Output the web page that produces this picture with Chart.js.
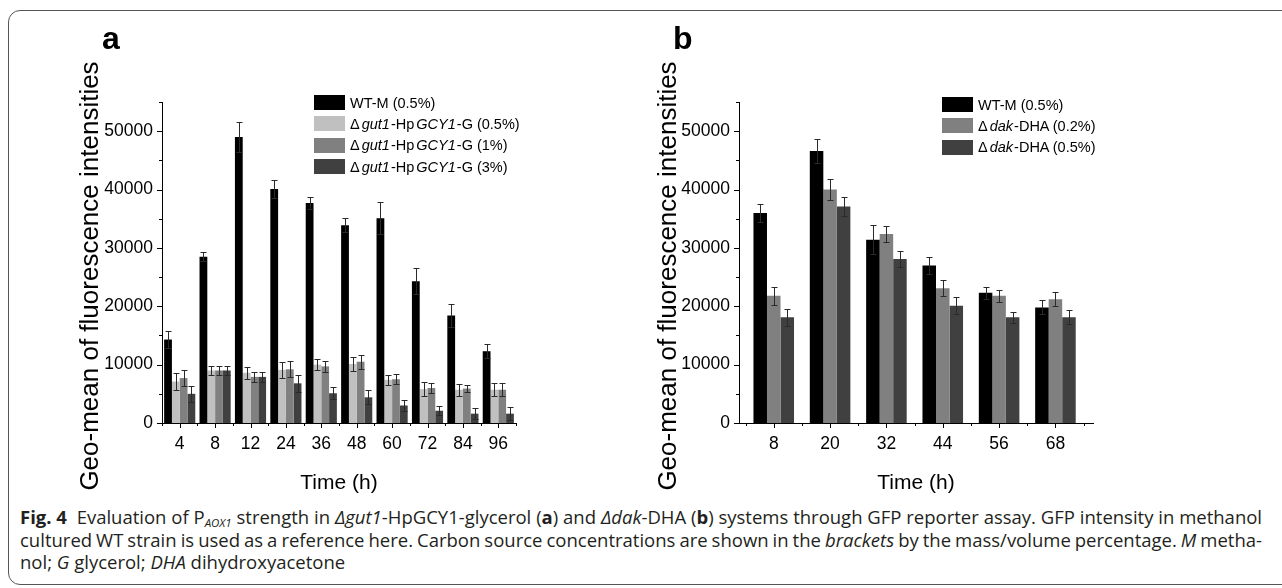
<!DOCTYPE html>
<html>
<head>
<meta charset="utf-8">
<script src="https://cdn.jsdelivr.net/npm/chart.js@4.4.1/dist/chart.umd.min.js"></script>
<style>
  html, body { margin: 0; padding: 0; background: #fff; }
  body { width: 1282px; height: 588px; position: relative; overflow: hidden; font-family: "Liberation Sans", Arial, sans-serif; }
  #frame { position: absolute; left: 8px; top: 10px; width: 1300px; height: 575px; border: 1.5px solid #555; border-radius: 12px; box-sizing: border-box; }
  canvas { position: absolute; top: 0; }
  #chartA { left: 0; }
  #chartB { left: 620px; }
  .letter { position: absolute; font: bold 32px "Liberation Sans", Arial, sans-serif; line-height: 1; }
  .legend { position: absolute; font-size: 14.5px; color: #000; }
  .legend .row { height: 21.3px; display: flex; align-items: center; white-space: nowrap; }
  .legend .box { display: inline-block; width: 31px; height: 15px; margin-right: 5px; }
  .legend i { margin: 0 1px 0 2px; }
  #caption { position: absolute; left: 20px; top: 506px; width: 1242px; font-family: "Open Sans", sans-serif; font-size: 16px; color: #231f20; }
  #caption .line { display: block; width: max-content; white-space: nowrap; height: 22.5px; line-height: 22.5px; }
  #caption sub { font-size: 0.62em; font-style: italic; vertical-align: -3px; line-height: 0; }
</style>
</head>
<body>
<div id="frame"></div>
<canvas id="chartA" width="640" height="500"></canvas>
<canvas id="chartB" width="662" height="500"></canvas>
<div class="letter" style="left:102px; top:22px;">a</div>
<div class="letter" style="left:673px; top:22px;">b</div>
<div class="legend" id="legendA" style="left:314px; top:92px;"></div>
<div class="legend" id="legendB" style="left:942px; top:94px;"></div>
<div id="caption">
  <div class="line" id="cap1"><b>Fig. 4</b>&nbsp; Evaluation of P<sub>AOX1</sub> strength in <i>Δgut1</i>-HpGCY1-glycerol (<b>a</b>) and <i>Δdak</i>-DHA (<b>b</b>) systems through GFP reporter assay. GFP intensity in methanol</div>
  <div class="line" id="cap2">cultured WT strain is used as a reference here. Carbon source concentrations are shown in the <i>brackets</i> by the mass/volume percentage. <i>M</i> metha-</div>
  <div class="line" id="cap3">nol; <i>G</i> glycerol; <i>DHA</i> dihydroxyacetone</div>
</div>
<script>
// panel a values
const timesA = ['4', '8', '12', '24', '36', '48', '60', '72', '84', '96'];
const wtA = [14300, 28500, 49000, 40100, 37700, 33900, 35100, 24300, 18400, 12300];
const wtAErr = [1500, 800, 2500, 1500, 1000, 1200, 2800, 2200, 2000, 1200];
const g05A = [7100, 9000, 8600, 9100, 10000, 10100, 7400, 5800, 5700, 5700];
const g05AErr = [1500, 700, 1000, 1400, 900, 1200, 900, 1200, 1000, 1100];
const g1A = [7700, 9000, 7900, 9200, 9700, 10500, 7500, 6000, 5900, 5700];
const g1AErr = [1400, 800, 900, 1400, 1000, 1200, 900, 900, 600, 1100];
const g3A = [5000, 9000, 7900, 6800, 5100, 4400, 3000, 2100, 1600, 1600];
const g3AErr = [1400, 700, 900, 1500, 1000, 1200, 1000, 800, 900, 1100];

// panel b values
const timesB = [8, 20, 32, 44, 56, 68];
const wtB = [36000, 46600, 31400, 27000, 22300, 19800];
const wtBErr = [1500, 2000, 2500, 1500, 1000, 1200];
const d02B = [21800, 40000, 32400, 23100, 21800, 21200];
const d02BErr = [1500, 1800, 1400, 1400, 1000, 1200];
const d05B = [18100, 37100, 28100, 20100, 18100, 18100];
const d05BErr = [1500, 1700, 1400, 1500, 900, 1200];

const yTicks = [0, 10000, 20000, 30000, 40000, 50000];
const labelsA = ['WT-M (0.5%)', 'Δgut1-HpGCY1-G (0.5%)', 'Δgut1-HpGCY1-G (1%)', 'Δgut1-HpGCY1-G (3%)'];
const labelsB = ['WT-M (0.5%)', 'Δdak-DHA (0.2%)', 'Δdak-DHA (0.5%)'];
const yTitle = 'Geo-mean of fluorescence intensities';

const tickFont = { family: 'Liberation Sans', size: 17.5 };

// error bars, drawn through the y scale
const errorBars = {
  id: 'errorBars',
  afterDatasetsDraw(chart) {
    const ctx = chart.ctx;
    const y = chart.scales.y;
    ctx.save();
    ctx.strokeStyle = '#2a2a2a';
    ctx.lineWidth = 1;
    chart.data.datasets.forEach((ds, di) => {
      const meta = chart.getDatasetMeta(di);
      meta.data.forEach((bar, i) => {
        const d = ds.data[i];
        const v = typeof d === 'object' ? d.y : d;
        const e = ds.errors[i];
        const top = Math.round(y.getPixelForValue(v + e)) + 0.5;
        const bot = Math.round(y.getPixelForValue(v - e)) + 0.5;
        const x = Math.round(bar.x) + 0.5;
        ctx.beginPath();
        ctx.moveTo(x, top); ctx.lineTo(x, bot);
        ctx.moveTo(x - 3, top); ctx.lineTo(x + 3, top);
        ctx.moveTo(x - 3, bot); ctx.lineTo(x + 3, bot);
        ctx.stroke();
      });
    });
    ctx.restore();
  }
};

// major / minor tick marks (outward) and the rotated y title
const axisExtras = {
  id: 'axisExtras',
  afterDraw(chart, args, opts) {
    const ctx = chart.ctx;
    const x = chart.scales.x, y = chart.scales.y;
    const area = chart.chartArea;
    ctx.save();
    ctx.strokeStyle = '#000';
    ctx.lineWidth = 1;
    ctx.beginPath();
    for (let v = 0; v <= y.max; v += 5000) {
      const py = Math.round(y.getPixelForValue(v)) + 0.5;
      const len = v % 10000 === 0 ? 5 : 3;
      ctx.moveTo(area.left - len, py); ctx.lineTo(area.left, py);
    }
    opts.major(x).forEach(px => {
      px = Math.round(px) + 0.5;
      ctx.moveTo(px, area.bottom); ctx.lineTo(px, area.bottom + 5);
    });
    opts.minor(x).forEach(px => {
      px = Math.round(px) + 0.5;
      ctx.moveTo(px, area.bottom); ctx.lineTo(px, area.bottom + 3);
    });
    ctx.stroke();

    ctx.translate(opts.titleX, opts.titleY);
    ctx.rotate(-Math.PI / 2);
    ctx.fillStyle = '#000';
    ctx.font = '26px "Liberation Sans"';
    ctx.textAlign = 'center';
    ctx.textBaseline = 'middle';
    ctx.fillText(yTitle, 0, 0);
    ctx.restore();
  }
};

function yScale(width) {
  return {
    min: 0,
    max: 55000,
    afterBuildTicks: s => { s.ticks = yTicks.map(v => ({ value: v })); },
    afterFit: s => { s.width = width; },
    grid: { display: false },
    border: { color: '#000', width: 1 },
    ticks: { color: '#000', font: tickFont, padding: 1, callback: v => String(v) }
  };
}

function xTitle() {
  return {
    display: true,
    text: 'Time (h)',
    color: '#000',
    font: { family: 'Liberation Sans', size: 21 },
    padding: { top: 0, bottom: 4 }
  };
}

// panel a
const dataA = {
  labels: timesA,
  datasets: [
    { label: labelsA[0], data: wtA, errors: wtAErr, backgroundColor: '#000000' },
    { label: labelsA[1], data: g05A, errors: g05AErr, backgroundColor: '#c0c0c0' },
    { label: labelsA[2], data: g1A, errors: g1AErr, backgroundColor: '#808080' },
    { label: labelsA[3], data: g3A, errors: g3AErr, backgroundColor: '#404040' }
  ]
};

const configA = {
  type: 'bar',
  data: dataA,
  options: {
    responsive: false,
    animation: false,
    categoryPercentage: 0.88,
    barPercentage: 1,
    layout: { padding: { top: 102, right: 124, bottom: 0, left: 0 } },
    plugins: {
      legend: { display: false },
      tooltip: { enabled: false },
      axisExtras: {
        titleX: 91,
        titleY: 276,
        major: x => timesA.map((t, i) => x.getPixelForValue(i)),
        minor: x => timesA.concat(['']).map((t, i) => x.left + i * x.width / timesA.length)
      }
    },
    scales: {
      x: {
        afterFit: s => { s.height = 77; },
        grid: { display: false },
        border: { color: '#000', width: 1 },
        ticks: { color: '#000', font: tickFont, padding: 3, autoSkip: false, maxRotation: 0 },
        title: xTitle()
      },
      y: yScale(162)
    }
  },
  plugins: [errorBars, axisExtras]
};

const chartA = new Chart(document.getElementById('chartA'), configA);

// panel b (linear time axis so the axis runs a little past the outer bars)
const toPts = vals => vals.map((v, i) => ({ x: timesB[i], y: v }));
const dataB = {
  datasets: [
    { label: labelsB[0], data: toPts(wtB), errors: wtBErr, backgroundColor: '#000000' },
    { label: labelsB[1], data: toPts(d02B), errors: d02BErr, backgroundColor: '#808080' },
    { label: labelsB[2], data: toPts(d05B), errors: d05BErr, backgroundColor: '#404040' }
  ]
};

const configB = {
  type: 'bar',
  data: dataB,
  options: {
    responsive: false,
    animation: false,
    categoryPercentage: 0.72,
    barPercentage: 1,
    layout: { padding: { top: 102, right: 189, bottom: 0, left: 0 } },
    plugins: {
      legend: { display: false },
      tooltip: { enabled: false },
      axisExtras: {
        titleX: 49,
        titleY: 276,
        major: x => timesB.map(t => x.getPixelForValue(t)),
        minor: x => timesB.concat([timesB[timesB.length - 1] + 12]).map(t => x.getPixelForValue(t - 6))
      }
    },
    scales: {
      x: {
        type: 'linear',
        min: 0.6,
        max: 76,
        offset: false,
        afterBuildTicks: s => { s.ticks = timesB.map(v => ({ value: v })); },
        afterFit: s => { s.height = 77; },
        grid: { display: false, offset: false },
        border: { color: '#000', width: 1 },
        ticks: { color: '#000', font: tickFont, padding: 3, maxRotation: 0, callback: v => String(v) },
        title: xTitle()
      },
      y: yScale(119)
    }
  },
  plugins: [errorBars, axisExtras]
};

const chartB = new Chart(document.getElementById('chartB'), configB);

// legends built from the datasets
function fmtLabel(s) {
  return s.replace(/(gut1|GCY1|dak)/g, '<i>$1</i>');
}
function buildLegend(chart, id) {
  const el = document.getElementById(id);
  el.innerHTML = chart.data.datasets.map(ds =>
    '<div class="row"><span class="box" style="background:' + ds.backgroundColor + '"></span><span>' + fmtLabel(ds.label) + '</span></div>'
  ).join('');
}
buildLegend(chartA, 'legendA');
buildLegend(chartB, 'legendB');

// caption: size the font so line 1 fills the column, justify line 2
const cap = document.getElementById('caption');
const cap1 = document.getElementById('cap1');
const cap2 = document.getElementById('cap2');
const colW = 1242;
cap.style.fontSize = (16 * colW / cap1.getBoundingClientRect().width) + 'px';
[cap1, cap2].forEach(line => {
  const spaces = (line.textContent.trim().match(/ +/g) || []).length;
  const gap = colW - line.getBoundingClientRect().width;
  line.style.wordSpacing = (gap / spaces) + 'px';
});
</script>
</body>
</html>
